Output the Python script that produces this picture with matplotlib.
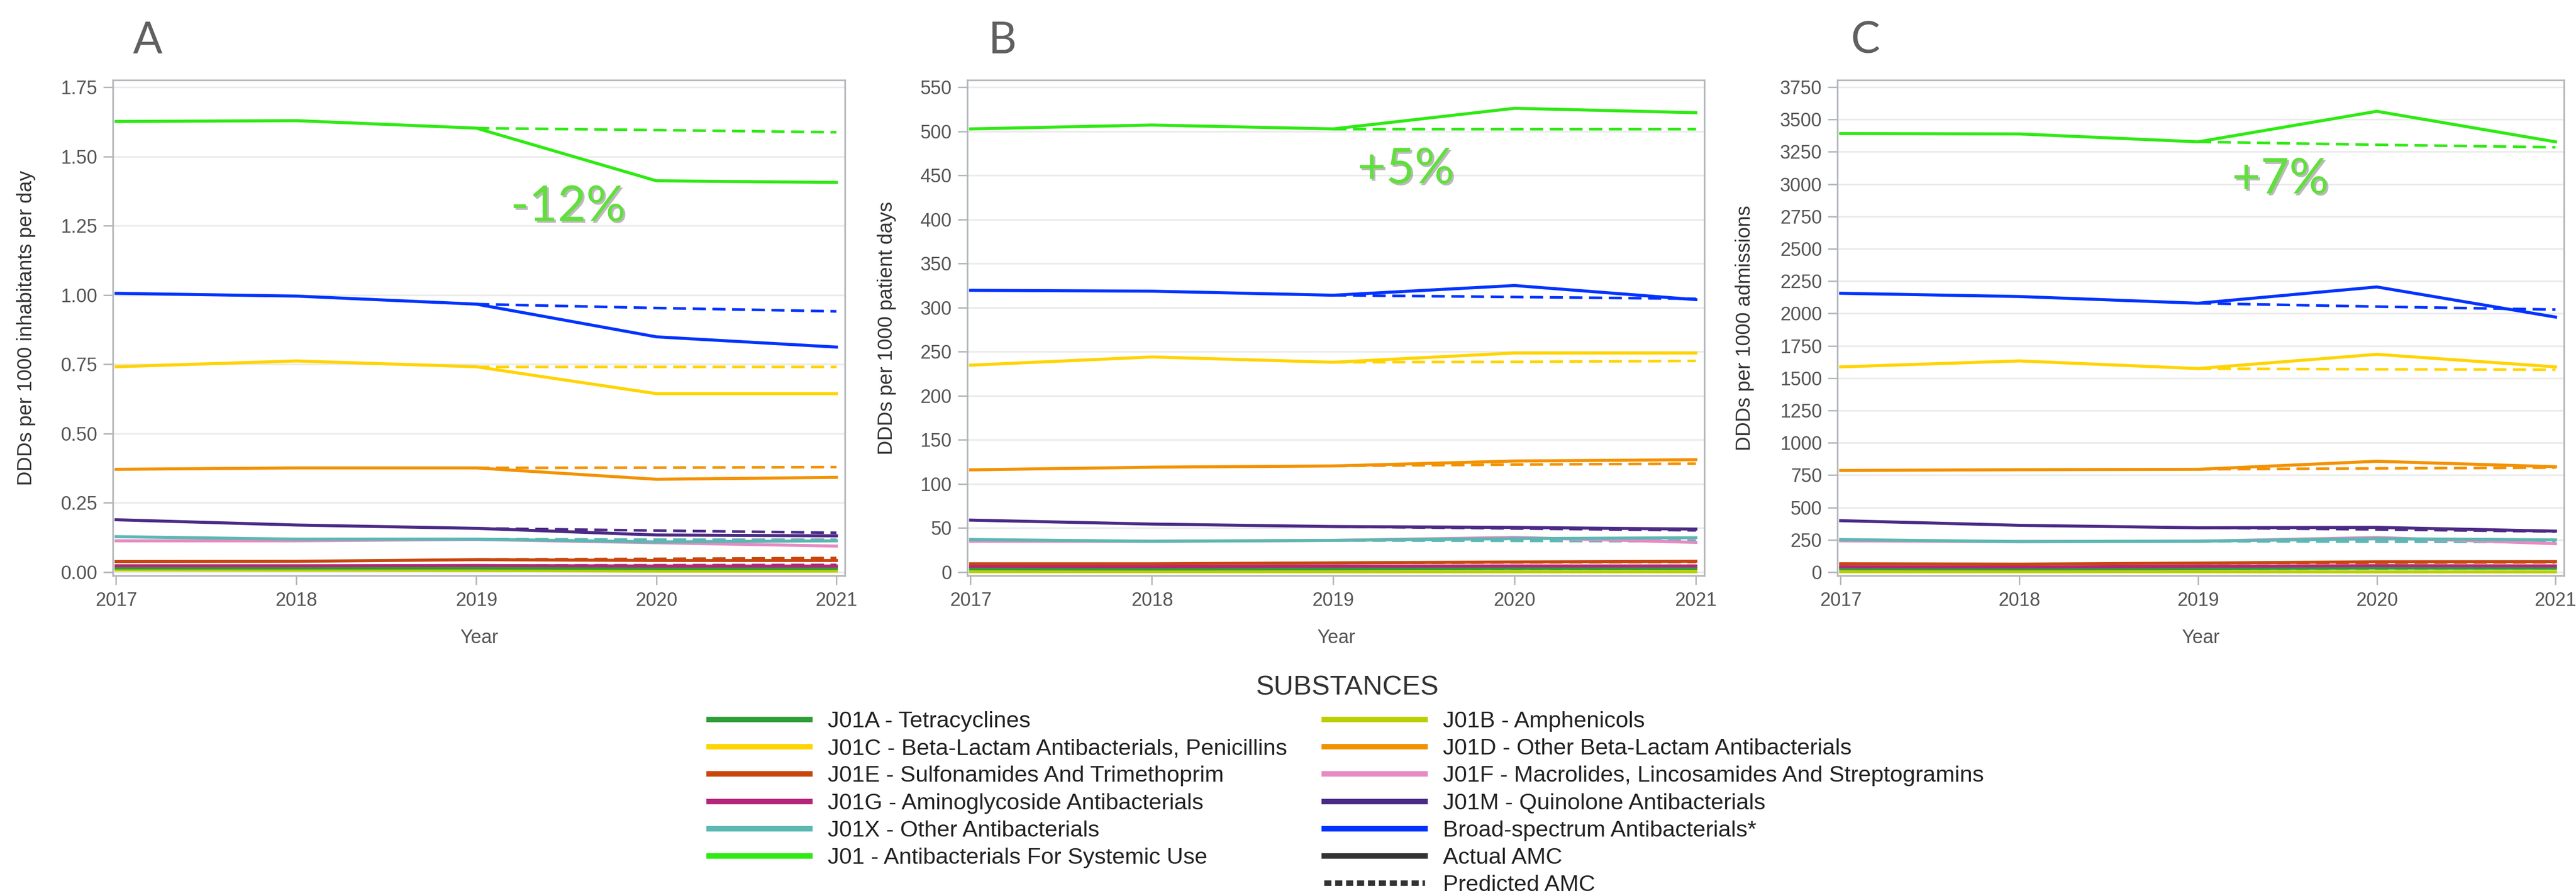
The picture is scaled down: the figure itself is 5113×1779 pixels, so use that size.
import matplotlib
matplotlib.use("Agg")
import matplotlib.pyplot as plt
from matplotlib.lines import Line2D
import matplotlib.patheffects as pe

plt.rcParams['font.family'] = ['Liberation Sans', 'DejaVu Sans']

years = [2017, 2018, 2019, 2020, 2021]
pred_years = [2019, 2020, 2021]

series_labels = {
    "J01A": "J01A - Tetracyclines",
    "J01B": "J01B - Amphenicols",
    "J01C": "J01C - Beta-Lactam Antibacterials, Penicillins",
    "J01D": "J01D - Other Beta-Lactam Antibacterials",
    "J01E": "J01E - Sulfonamides And Trimethoprim",
    "J01F": "J01F - Macrolides, Lincosamides And Streptogramins",
    "J01G": "J01G - Aminoglycoside Antibacterials",
    "J01M": "J01M - Quinolone Antibacterials",
    "J01X": "J01X - Other Antibacterials",
    "J01": "J01 - Antibacterials For Systemic Use",
    "BS": "Broad-spectrum Antibacterials*",
}
series_colors = {
    "J01A": "#2e9e36", "J01B": "#bccf00", "J01C": "#ffd400", "J01D": "#f39200",
    "J01E": "#c8460c", "J01F": "#e78ac3", "J01G": "#b5267b", "J01M": "#4b2a86",
    "J01X": "#5bb8b2", "J01": "#2eea12", "BS": "#0033ff",
}

# Panel A: DDDs per 1000 inhabitants per day
a_actual = {
    "J01":  [1.626, 1.629, 1.602, 1.412, 1.406],
    "BS":   [1.006, 0.996, 0.967, 0.849, 0.812],
    "J01C": [0.741, 0.762, 0.741, 0.644, 0.644],
    "J01D": [0.371, 0.376, 0.376, 0.335, 0.342],
    "J01M": [0.189, 0.170, 0.158, 0.134, 0.131],
    "J01X": [0.128, 0.119, 0.119, 0.109, 0.113],
    "J01F": [0.113, 0.113, 0.118, 0.106, 0.094],
    "J01E": [0.038, 0.039, 0.045, 0.042, 0.042],
    "J01G": [0.023, 0.023, 0.024, 0.022, 0.022],
    "J01A": [0.015, 0.015, 0.015, 0.013, 0.013],
    "J01B": [0.008, 0.007, 0.006, 0.004, 0.004],
}
a_pred = {
    "J01":  [1.602, 1.595, 1.587],
    "BS":   [0.967, 0.953, 0.941],
    "J01C": [0.741, 0.741, 0.741],
    "J01D": [0.376, 0.377, 0.379],
    "J01M": [0.158, 0.150, 0.142],
    "J01X": [0.119, 0.117, 0.116],
    "J01F": [0.118, 0.118, 0.118],
    "J01E": [0.045, 0.048, 0.051],
    "J01G": [0.024, 0.025, 0.026],
    "J01A": [0.015, 0.015, 0.016],
    "J01B": [0.006, 0.006, 0.005],
}

# Panel B: DDDs per 1000 patient days
b_actual = {
    "J01":  [502.6, 507.0, 502.6, 526.0, 521.0],
    "BS":   [319.6, 318.6, 314.0, 325.0, 309.0],
    "J01C": [234.7, 244.0, 238.0, 248.5, 248.5],
    "J01D": [116.0, 119.0, 120.4, 126.0, 127.5],
    "J01M": [59.0, 54.5, 51.7, 50.7, 48.8],
    "J01X": [37.0, 35.0, 36.0, 38.0, 39.0],
    "J01F": [35.0, 35.0, 36.0, 39.4, 33.7],
    "J01E": [9.5, 9.5, 10.5, 11.5, 12.3],
    "J01G": [6.6, 6.2, 6.8, 7.0, 7.0],
    "J01A": [3.8, 3.6, 3.8, 4.2, 4.0],
    "J01B": [0.5, 0.5, 0.4, 0.4, 0.4],
}
b_pred = {
    "J01":  [502.6, 502.6, 502.6],
    "BS":   [314.0, 312.0, 310.0],
    "J01C": [238.0, 238.5, 239.5],
    "J01D": [120.4, 122.0, 123.0],
    "J01M": [51.7, 49.5, 47.4],
    "J01X": [36.0, 35.5, 35.0],
    "J01F": [36.0, 36.5, 37.0],
    "J01E": [10.5, 11.0, 11.5],
    "J01G": [6.8, 7.0, 7.2],
    "J01A": [3.8, 3.9, 4.0],
    "J01B": [0.4, 0.4, 0.4],
}

# Panel C: DDDs per 1000 admissions
c_actual = {
    "J01":  [3391, 3388, 3327, 3563, 3327],
    "BS":   [2156, 2131, 2079, 2205, 1972],
    "J01C": [1587, 1633, 1574, 1684, 1587],
    "J01D": [786, 792, 795, 857, 815],
    "J01M": [398, 362, 343, 346, 317],
    "J01X": [252, 236, 239, 259, 249],
    "J01F": [242, 236, 239, 268, 220],
    "J01E": [65, 62, 70, 80, 81],
    "J01G": [42, 40, 45, 50, 48],
    "J01A": [26, 25, 27, 32, 30],
    "J01B": [3, 3, 3, 2, 2],
}
c_pred = {
    "J01":  [3327, 3304, 3285],
    "BS":   [2079, 2053, 2030],
    "J01C": [1574, 1568, 1565],
    "J01D": [795, 802, 808],
    "J01M": [343, 330, 314],
    "J01X": [239, 236, 233],
    "J01F": [239, 243, 246],
    "J01E": [70, 73, 76],
    "J01G": [45, 47, 49],
    "J01A": [27, 28, 29],
    "J01B": [3, 3, 3],
}

panel_letters = ["A", "B", "C"]
y_labels = ["DDDs per 1000 inhabitants per day", "DDDs per 1000 patient days", "DDDs per 1000 admissions"]
y_ticks_list = [
    [0.00, 0.25, 0.50, 0.75, 1.00, 1.25, 1.50, 1.75],
    [0, 50, 100, 150, 200, 250, 300, 350, 400, 450, 500, 550],
    [0, 250, 500, 750, 1000, 1250, 1500, 1750, 2000, 2250, 2500, 2750, 3000, 3250, 3500, 3750],
]
y_tick_fmt = ["{:.2f}", "{:.0f}", "{:.0f}"]
pct_labels = ["-12%", "+5%", "+7%"]
pct_pos = [(2019.51, 1.318), (2019.40, 457), (2019.46, 3037)]

W, H = 5113, 1779
DPI = 300
fig = plt.figure(figsize=(W / DPI, H / DPI), dpi=DPI)

top_px, bot_px = 159, 1143
frames_x = [(224, 1677), (1920, 3383), (3647, 5089)]
ylabel_x_px = [52, 1760, 3463]
letter_x = [293 / W, 1989 / W, 3703 / W]

panels = [(a_actual, a_pred), (b_actual, b_pred), (c_actual, c_pred)]
draw_order = ["J01B", "J01A", "J01G", "J01E", "J01F", "J01X", "J01M", "J01D", "J01C", "BS", "J01"]

grey_text = "#555555"
frame_col = "#b4b8bc"

for i, (actual, pred) in enumerate(panels):
    l, r = frames_x[i]
    ax = fig.add_axes((l / W, 1 - bot_px / H, (r - l) / W, (bot_px - top_px) / H))
    for k in draw_order:
        ax.plot(years, actual[k], color=series_colors[k], lw=1.45, solid_joinstyle='round', zorder=3)
        ax.plot(pred_years, pred[k], color=series_colors[k], lw=1.25, ls=(0, (5, 2.5)), zorder=2.5)
    yt = y_ticks_list[i]
    span = yt[-1] - yt[0]
    ax.set_ylim(yt[0] - 0.0073 * span, yt[-1] + 0.0145 * span)
    ax.set_xlim(2016.982, 2021.047)
    ax.set_yticks(yt)
    ax.set_yticklabels([y_tick_fmt[i].format(v) for v in yt])
    ax.set_xticks(years)
    ax.set_xticklabels([str(y) for y in years])
    ax.grid(axis='y', color='#ebebeb', lw=0.8, zorder=0)
    ax.set_axisbelow(True)
    for s in ax.spines.values():
        s.set_color(frame_col)
        s.set_linewidth(0.8)
    ax.tick_params(axis='y', direction='out', length=4.5, width=0.7, color=frame_col,
                   labelsize=9, labelcolor=grey_text, pad=2.9)
    ax.tick_params(axis='x', direction='out', length=4.3, width=0.7, color=frame_col,
                   labelsize=9, labelcolor=grey_text, pad=3.4)
    ax.set_xlabel("Year", fontsize=9, color=grey_text, labelpad=9)
    ax.set_ylabel(y_labels[i], fontsize=9.6, color="#333333", va='center')
    ax.yaxis.set_label_coords((ylabel_x_px[i] - l) / (r - l), 0.5)
    ax.text(pct_pos[i][0], pct_pos[i][1], pct_labels[i], fontsize=23.5, family=['Lato', 'DejaVu Sans'],
            color="#5fe03a", ha='center', va='center', zorder=5,
            path_effects=[pe.SimplePatchShadow(offset=(0.9, -0.9), shadow_rgbFace='#666666', alpha=0.45),
                          pe.Normal()])
    fig.text(letter_x[i], 1 - 81 / H, panel_letters[i], fontsize=20.8, family=['Lato', 'DejaVu Sans'],
             color="#606060", ha='center', va='center')

# Legend
fig.text(2674 / W, 1 - 1365 / H, "SUBSTANCES", fontsize=13, color="#333333", ha='center', va='center')
left_keys = ["J01A", "J01C", "J01E", "J01G", "J01X", "J01"]
right_keys = ["J01B", "J01D", "J01F", "J01M", "BS"]
left_handles = [Line2D([], [], color=series_colors[k], lw=2.6) for k in left_keys]
right_handles = [Line2D([], [], color=series_colors[k], lw=2.6) for k in right_keys]
right_handles += [Line2D([], [], color="#333333", lw=2.6),
                  Line2D([], [], color="#333333", lw=2.6, ls=(0, (1.3, 0.7)))]
right_labels = [series_labels[k] for k in right_keys] + ["Actual AMC", "Predicted AMC"]

common = dict(frameon=False, fontsize=10.9, handlelength=4.4, handletextpad=0.8,
              labelspacing=0.29, borderaxespad=0, borderpad=0)
leg1 = fig.legend(left_handles, [series_labels[k] for k in left_keys], loc='upper left',
                  bbox_to_anchor=(1407 / W, 1 - 1412 / H), **common)
leg2 = fig.legend(right_handles, right_labels, loc='upper left',
                  bbox_to_anchor=(2628 / W, 1 - 1412 / H), **common)
for leg in (leg1, leg2):
    for t in leg.get_texts():
        t.set_color("#222222")

fig.savefig("out.png", dpi=DPI)
